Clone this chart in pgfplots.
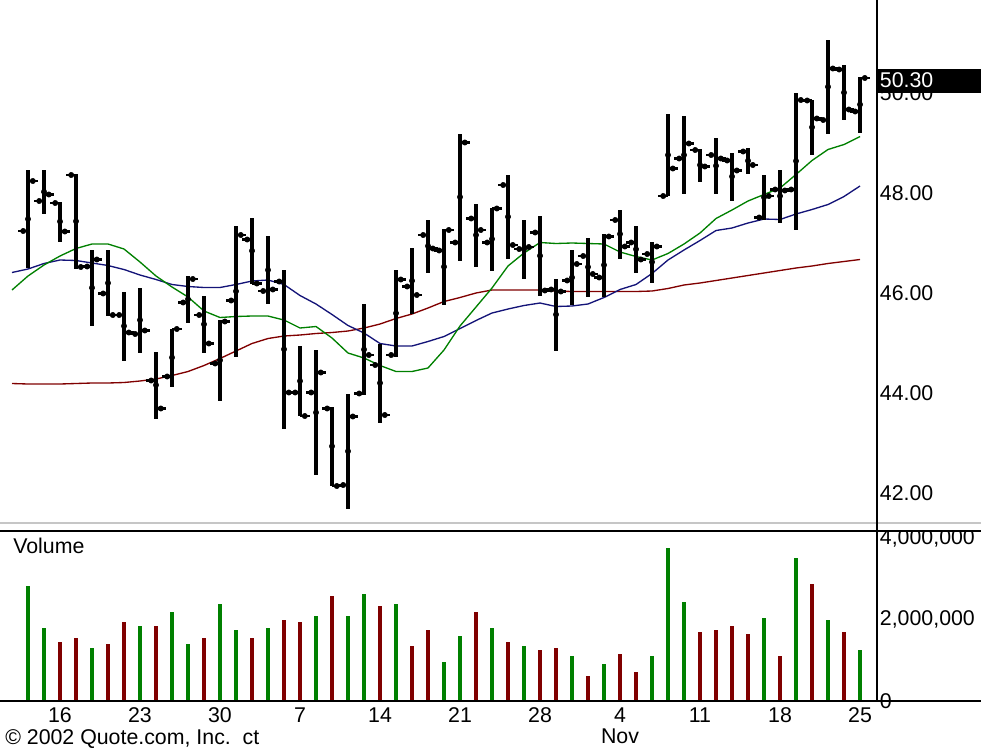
\documentclass[border=0pt]{standalone}
\usepackage{pgfplots}
\pgfplotsset{compat=1.18}
\usepackage{pgfplotstable}
\usepackage{fontspec}
\setmainfont{Liberation Sans}
\definecolor{magreen}{RGB}{0,128,0}
\definecolor{manavy}{RGB}{20,20,120}
\definecolor{mared}{RGB}{128,0,0}
\definecolor{volgreen}{RGB}{0,128,0}
\definecolor{volred}{RGB}{128,0,0}

\pgfplotstableread{
i O H L C V up
0 47.24 48.46 46.50 48.24 2830000 1
1 47.84 48.47 47.58 47.97 1800000 1
2 47.80 47.83 47.03 47.23 1460000 0
3 48.36 48.38 46.49 46.52 1550000 0
4 46.53 46.87 45.34 46.67 1310000 1
5 45.99 46.86 45.54 45.56 1410000 0
6 45.56 46.03 44.65 45.21 1950000 0
7 45.18 46.11 44.81 45.25 1850000 1
8 44.25 44.83 43.49 43.69 1850000 0
9 44.33 45.29 44.13 45.28 2190000 1
10 45.81 46.34 45.41 46.28 1410000 1
11 45.56 45.94 44.81 44.99 1550000 0
12 44.59 45.46 43.85 45.43 2390000 1
13 45.85 47.34 44.73 47.16 1750000 1
14 47.07 47.51 46.18 46.19 1550000 0
15 46.04 47.14 45.78 46.07 1800000 1
16 46.23 46.46 43.29 44.01 2000000 0
17 44.01 44.94 43.54 43.54 1950000 0
18 44.01 44.86 42.36 44.41 2090000 1
19 43.69 43.73 42.14 42.14 2580000 0
20 42.16 43.98 41.69 43.53 2090000 1
21 43.99 45.78 43.96 44.76 2630000 1
22 44.56 44.99 43.41 43.56 2340000 0
23 44.76 46.46 44.73 46.27 2390000 1
24 46.13 46.91 45.58 45.96 1360000 0
25 47.16 47.47 46.41 46.89 1750000 0
26 46.85 47.29 45.76 47.26 960000 1
27 47.01 49.19 46.65 49.01 1600000 1
28 47.49 47.79 46.53 47.26 2190000 0
29 47.01 47.71 46.45 47.69 1800000 1
30 48.16 48.36 46.69 46.96 1460000 0
31 46.88 47.47 46.29 46.92 1360000 1
32 47.21 47.54 45.95 46.05 1260000 0
33 46.07 46.29 44.85 46.03 1310000 0
34 46.25 46.86 45.76 46.58 1110000 1
35 46.74 47.11 45.93 46.38 620000 0
36 46.31 47.19 45.93 47.13 920000 1
37 47.46 47.67 46.69 46.93 1160000 0
38 47.01 47.34 46.41 46.67 720000 0
39 46.78 47.03 46.21 46.93 1110000 1
40 47.94 49.58 47.94 48.49 3760000 1
41 48.69 49.54 47.98 48.99 2440000 1
42 48.86 48.89 48.23 48.53 1700000 0
43 48.76 49.11 47.98 48.69 1750000 0
44 48.65 48.81 47.85 48.45 1850000 0
45 48.83 48.91 48.38 48.56 1650000 0
46 47.51 48.36 47.47 47.94 2040000 1
47 48.07 48.47 47.41 48.05 1110000 0
48 48.07 50.01 47.27 49.86 3520000 1
49 49.85 49.87 48.76 49.49 2880000 0
50 49.46 51.07 49.18 50.49 2000000 1
51 50.47 50.56 49.46 49.67 1700000 0
52 49.63 50.33 49.21 50.30 1260000 1
}\bars

\pgfplotstableread{
i G B R
-1 46.06 46.41 44.19
0 46.34 46.48 44.18
1 46.56 46.59 44.18
2 46.74 46.66 44.18
3 46.89 46.65 44.19
4 46.98 46.60 44.20
5 46.98 46.55 44.20
6 46.88 46.47 44.21
7 46.62 46.36 44.24
8 46.34 46.27 44.28
9 46.12 46.17 44.35
10 45.92 46.13 44.43
11 45.64 46.11 44.55
12 45.51 46.11 44.69
13 45.53 46.17 44.84
14 45.54 46.24 44.99
15 45.54 46.26 45.09
16 45.46 46.17 45.14
17 45.30 45.95 45.16
18 45.33 45.78 45.19
19 45.10 45.57 45.21
20 44.80 45.35 45.24
21 44.70 45.20 45.30
22 44.55 44.99 45.38
23 44.43 44.94 45.49
24 44.43 44.94 45.58
25 44.50 45.03 45.70
26 44.86 45.13 45.83
27 45.34 45.29 45.91
28 45.72 45.45 46.00
29 46.10 45.60 46.06
30 46.54 45.68 46.06
31 46.80 45.75 46.06
32 47.01 45.80 46.06
33 46.99 45.73 46.04
34 47.00 45.74 46.03
35 46.99 45.78 46.03
36 46.98 45.91 46.03
37 46.82 46.07 46.03
38 46.73 46.17 46.03
39 46.66 46.39 46.04
40 46.79 46.66 46.09
41 46.98 46.86 46.16
42 47.20 47.05 46.20
43 47.49 47.25 46.25
44 47.66 47.30 46.30
45 47.84 47.40 46.35
46 47.97 47.48 46.40
47 48.10 47.47 46.45
48 48.37 47.58 46.50
49 48.65 47.67 46.54
50 48.87 47.77 46.59
51 48.97 47.93 46.63
52 49.13 48.14 46.67
}\mas

\begin{document}
\begin{tikzpicture}[every node/.append style={font=\fontsize{16}{18}\selectfont}]
\path[use as bounding box] (0pt,0pt) rectangle (735.75pt,-562.5pt);

% ---------- price panel ----------
\begin{axis}[
  at={(0pt,0pt)}, anchor=north west,
  scale only axis, width=657.75pt, height=391.5pt,
  xmin=-1.75, xmax=53.0625, ymin=41.42, ymax=51.86,
  axis x line=none, axis y line*=right,
  axis line style={-, black, line width=1.1pt},
  ytick={42,44,46,48,50},
  yticklabel={\pgfmathprintnumber[fixed,fixed zerofill,precision=2]{\tick}},
  /pgf/number format/assume math mode=true,
  major tick length=0pt, tick style={draw=none},
  yticklabel style={anchor=west, inner xsep=2pt},
  clip=false,
]
\addplot[mared, line width=1pt] table[x=i, y=R] {\mas};
\addplot[manavy, line width=1pt] table[x=i, y=B] {\mas};
\addplot[magreen, line width=1pt] table[x=i, y=G] {\mas};
% high-low
\addplot[only marks, mark=none, error bars/.cd, y dir=both, y explicit, error mark=none,
  error bar style={line width=3pt, black}]
  table[x=i, y expr={(\thisrow{H}+\thisrow{L})/2}, y error expr={(\thisrow{H}-\thisrow{L})/2}] {\bars};
% open
\addplot[only marks, mark=none, error bars/.cd, x dir=both, x fixed=0.3, error mark=none,
  error bar style={line width=2.1pt, black}]
  table[x expr={\thisrow{i}-0.3}, y=O] {\bars};
% close
\addplot[only marks, mark=none, error bars/.cd, x dir=both, x fixed=0.3, error mark=none,
  error bar style={line width=2.1pt, black}]
  table[x expr={\thisrow{i}+0.3}, y=C] {\bars};
\node[fill=black, text=white, anchor=west, inner xsep=2pt, inner ysep=0pt,
  minimum height=18pt, text width=74pt, align=left] at (axis cs:53.0625,50.25) {50.30};
\end{axis}

% ---------- volume panel ----------
\begin{axis}[
  at={(0pt,-397.5pt)}, anchor=north west,
  scale only axis, width=657.75pt, height=128.25pt,
  xmin=-1.75, xmax=53.0625, ymin=0, ymax=4196000,
  axis x line*=bottom, x axis line style={draw=none},
  axis y line*=right, y axis line style={-, black, line width=1.1pt},
  ytick={0,2000000,4000000}, scaled y ticks=false,
  /pgf/number format/assume math mode=true,
  yticklabel style={/pgf/number format/fixed, /pgf/number format/1000 sep={,}, anchor=west, inner xsep=2pt},
  xtick={2,7,12,17,22,27,32,37,42,47,52},
  xticklabels={16,23,30,7,14,21,28,{4\\Nov},11,18,25},
  xticklabel style={align=center, anchor=north, inner ysep=3pt, yshift=-2pt,
    font=\fontsize{16}{15.5}\selectfont},
  major tick length=0pt, tick style={draw=none},
  clip=false,
]
\addplot[ycomb, volgreen, line width=2.8pt, restrict expr to domain={\thisrow{up}}{0.5:1.5}]
  table[x=i, y=V] {\bars};
\addplot[ycomb, volred, line width=2.8pt, restrict expr to domain={\thisrow{up}}{-0.5:0.5}]
  table[x=i, y=V] {\bars};
\end{axis}

% separators and baseline
\fill[white] (658.5pt,-393pt) rectangle (735.75pt,-398pt);
\draw[gray!45, line width=1.5pt] (0pt,-392.25pt) -- (735.75pt,-392.25pt);
\draw[black, line width=1.2pt] (0pt,-398.25pt) -- (735.75pt,-398.25pt);
\draw[black, line width=1.2pt] (0pt,-525.75pt) -- (735.75pt,-525.75pt);
\draw[black, line width=1.1pt] (657.75pt,-391.5pt) -- (657.75pt,-398.25pt);

\node[anchor=west, inner sep=0pt] at (9.75pt,-409.5pt) {Volume};
\node[anchor=west, inner sep=0pt] at (3.75pt,-554.5pt) {\textcopyright{} 2002 Quote.com, Inc.\ \ ct};
\end{tikzpicture}
\end{document}
